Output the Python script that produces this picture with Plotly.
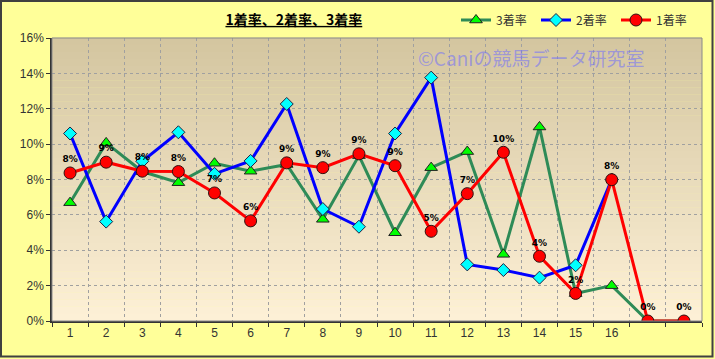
import plotly.graph_objects as go

# ---- data ----
categories = ["1", "2", "3", "4", "5", "6", "7", "8", "9", "10", "11", "12", "13", "14", "15", "16", "17", "18"]
tick_labels = ["1", "2", "3", "4", "5", "6", "7", "8", "9", "10", "11", "12", "13", "14", "15", "16", "", ""]
rate1 = [8.37, 8.98, 8.47, 8.45, 7.24, 5.66, 8.94, 8.67, 9.45, 8.78, 5.07, 7.20, 9.54, 3.66, 1.56, 7.99, 0.0, 0.0]
rate2 = [10.60, 5.62, 9.03, 10.67, 8.32, 9.05, 12.27, 6.33, 5.33, 10.60, 13.76, 3.20, 2.88, 2.45, 3.15, 8.00, None, None]
rate3 = [6.69, 10.07, 8.45, 7.82, 8.92, 8.47, 8.85, 5.75, 9.35, 4.99, 8.67, 9.58, 3.77, 10.97, 1.55, 2.00, 0.0, 0.0]
rate1_labels = ["%d%%" % round(v) for v in rate1]
y_ticks = [0, 2, 4, 6, 8, 10, 12, 14, 16]
y_tick_labels = ["0%", "2%", "4%", "6%", "8%", "10%", "12%", "14%", "16%"]

xpos = list(range(1, len(categories) + 1))

fig = go.Figure()
fig.add_trace(go.Scatter(
    x=xpos, y=rate3, name="3着率", mode="lines+markers",
    line=dict(color="#2E8B57", width=3),
    marker=dict(symbol="triangle-up", size=11, color="#00FF00", line=dict(color="#202020", width=1)),
))
fig.add_trace(go.Scatter(
    x=xpos, y=rate2, name="2着率", mode="lines+markers",
    line=dict(color="#0000FF", width=3),
    marker=dict(symbol="diamond", size=10, color="#00FFFF", line=dict(color="#202040", width=1)),
))
fig.add_trace(go.Scatter(
    x=xpos, y=rate1, name="1着率", mode="lines+markers+text",
    line=dict(color="#FF0000", width=3),
    marker=dict(symbol="circle", size=12, color="#FF0000", line=dict(color="#301010", width=1)),
    text=rate1_labels, textposition="top center",
    textfont=dict(family="DejaVu Sans, Liberation Sans, sans-serif", size=9, color="#000000", weight="bold"),
))

# gradient plot background (bands)
shapes = []
n = 40
top = (212, 198, 160)
bot = (253, 240, 214)
for i in range(n):
    t = i / (n - 1)
    c = tuple(int(round(top[k] + (bot[k] - top[k]) * t)) for k in range(3))
    shapes.append(dict(type="rect", xref="x domain", yref="y domain",
                       x0=0, x1=1, y0=1 - (i + 1) / n, y1=1 - i / n + 0.001,
                       fillcolor="rgb(%d,%d,%d)" % c, line=dict(width=0), layer="below"))
# plot border (gray), drawn above
shapes.append(dict(type="rect", xref="x domain", yref="y domain", x0=0, x1=1, y0=0, y1=1,
                   line=dict(color="#8A8A8A", width=1), layer="above"))
# outer figure border
W, H = 715, 359
L, R, T, B = 52, 13, 38, 38
pw, ph = W - L - R, H - T - B
shapes.append(dict(type="rect", xref="paper", yref="paper",
                   x0=(1 - L) / pw, x1=(W - 2.5 - L) / pw,
                   y0=(H - B - (H - 2.5)) / ph, y1=(H - B - 1) / ph,
                   line=dict(color="#404040", width=2), layer="below"))

fig.update_layout(
    width=W, height=H,
    margin=dict(l=L, r=R, t=T, b=B, autoexpand=False),
    paper_bgcolor="#FFFF99",
    plot_bgcolor="rgba(0,0,0,0)",
    shapes=shapes,
    font=dict(family="Liberation Sans, Noto Sans CJK JP, sans-serif", color="#333333", size=12),
    title=dict(text="<b><u>1着率、2着率、3着率</u></b>", x=0.411, y=1 - 20 / H,
               xanchor="center", yanchor="middle",
               font=dict(family="Noto Sans CJK JP, sans-serif", size=14, color="#000000")),
    legend=dict(orientation="h", x=(456 - L) / pw, y=(H - B - 20) / ph, xanchor="left", yanchor="middle",
                bgcolor="rgba(0,0,0,0)", entrywidth=35, entrywidthmode="pixels",
                font=dict(family="Noto Sans CJK JP, sans-serif", size=12, color="#333333"),
                traceorder="normal"),
    showlegend=True,
    xaxis=dict(
        range=[0.5, len(categories) + 0.5], automargin=False,
        tickmode="array", tickvals=xpos, ticktext=tick_labels,
        showgrid=False, zeroline=False,
        showline=True, linecolor="#333333", linewidth=1.5,
        ticks="", tickfont=dict(size=12, color="#333333"),
        minor=dict(tick0=0.5, dtick=1, showgrid=True, gridcolor="#A0A0A0", griddash="dot",
                   gridwidth=1, ticks="outside", ticklen=4, tickcolor="#333333"),
    ),
    yaxis=dict(
        range=[0, 16], automargin=False, tickmode="array", tickvals=y_ticks, ticktext=y_tick_labels,
        showgrid=True, gridcolor="#A0A0A0", griddash="dot", gridwidth=1,
        zeroline=False, showline=True, linecolor="#333333", linewidth=1.5,
        ticks="outside", ticklen=4, tickcolor="#333333",
        tickfont=dict(size=12, color="#333333"),
    ),
    annotations=[dict(text="©Caniの競馬データ研究室", xref="paper", yref="paper",
                      x=(531 - L) / pw, y=(H - B - 58) / ph, showarrow=False,
                      xanchor="center", yanchor="middle",
                      font=dict(family="Noto Sans CJK JP, sans-serif", size=19, color="rgba(110,110,255,0.55)"))],
)

fig.write_html("out.html", config={"displayModeBar": False},
               post_script="document.body.style.margin='0';")
